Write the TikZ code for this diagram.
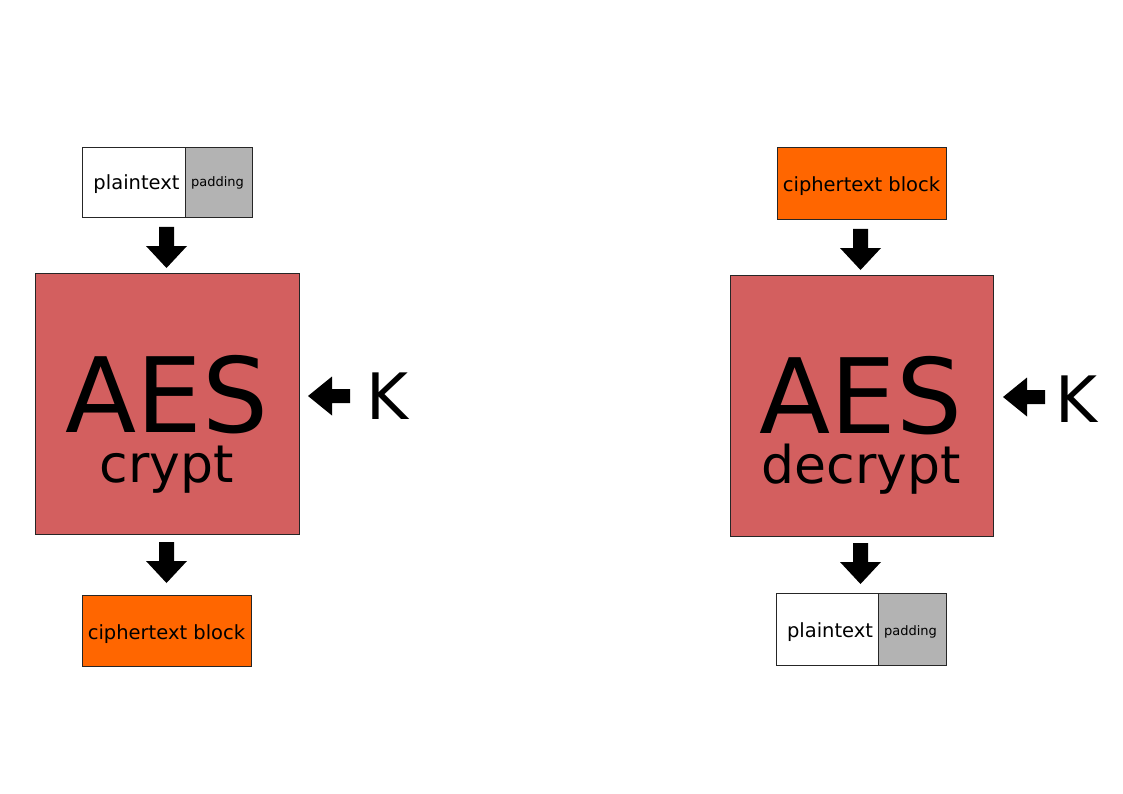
\documentclass[tikz,border=0pt]{standalone}
\usepackage{fontspec}
\setmainfont{DejaVu Sans}
\definecolor{aesred}{HTML}{D35F5F}
\definecolor{ciphorange}{HTML}{FF6600}
\definecolor{padgray}{HTML}{B3B3B3}
\tikzset{
  box/.style={draw=black!85, line width=0.9pt, inner sep=0, minimum width=#1},
  box/.default=100,
  lbl/.style={inner sep=0, anchor=base},
  small/.style={lbl, font=\fontsize{19.5}{20}\selectfont},
  tiny/.style={lbl, font=\fontsize{13}{13}\selectfont},
  huge/.style={lbl, text depth=0pt, font=\fontsize{104}{104}\selectfont},
  sub/.style={lbl, text height=36pt, font=\fontsize{52}{52}\selectfont},
  keyl/.style={lbl, font=\fontsize{64}{64}\selectfont},
  pics/downarrow/.style={code={
    \fill[black] (-7.5,0) -- (7.5,0) -- (7.5,19) -- (20.5,19) -- (0,41) -- (-20.5,19) -- (-7.5,19) -- cycle;}},
  pics/leftarrow/.style={code={
    \fill[black] (0,0) -- (24,-19.5) -- (24,-7) -- (42,-7) -- (42,7) -- (24,7) -- (24,19.5) -- cycle;}}
}
\begin{document}
\begin{tikzpicture}[x=1pt,y=-1pt]
\useasboundingbox[fill=white] (0,0) rectangle (1123,794);
% ---------- left: encryption ----------
\node[box=103, minimum height=70, fill=white] (pt1) at (133.5,182) {};
\node[box=67, minimum height=70, fill=padgray] (pad1) at (218.5,182) {};
\node[small] (pt1l) at (136.5,190) {plaintext};
\node[tiny] (pad1l) at (217.5,187) {padding};
\pic at (166.5,227) {downarrow};
\node[box=264, minimum height=261, fill=aesred] (aes1) at (167,403.5) {};
\node[huge] (aes1l) at (167,432) {AES};
\node[sub] (aes1s) at (166.5,482) {crypt};
\pic at (308,396) {leftarrow};
\node[keyl] (k1) at (387.5,419) {K};
\pic at (166.5,542) {downarrow};
\node[box=169, minimum height=71, fill=ciphorange] (ct1) at (166.5,630.5) {};
\node[small] (ct1l) at (166.5,639) {ciphertext block};
% ---------- right: decryption ----------
\node[box=169, minimum height=72, fill=ciphorange] (ct2) at (861.5,183) {};
\node[small] (ct2l) at (861.5,192) {ciphertext block};
\pic at (860.5,229) {downarrow};
\node[box=263, minimum height=261, fill=aesred] (aes2) at (861.5,405.5) {};
\node[huge] (aes2l) at (861,433) {AES};
\node[sub] (aes2s) at (861.5,483) {decrypt};
\pic at (1003,397) {leftarrow};
\node[keyl] (k2) at (1076.5,422) {K};
\pic at (860.5,543) {downarrow};
\node[box=102, minimum height=72, fill=white] (pt2) at (827,629) {};
\node[box=68, minimum height=72, fill=padgray] (pad2) at (912,629) {};
\node[small] (pt2l) at (830,637) {plaintext};
\node[tiny] (pad2l) at (910.5,635) {padding};
\end{tikzpicture}
\end{document}
